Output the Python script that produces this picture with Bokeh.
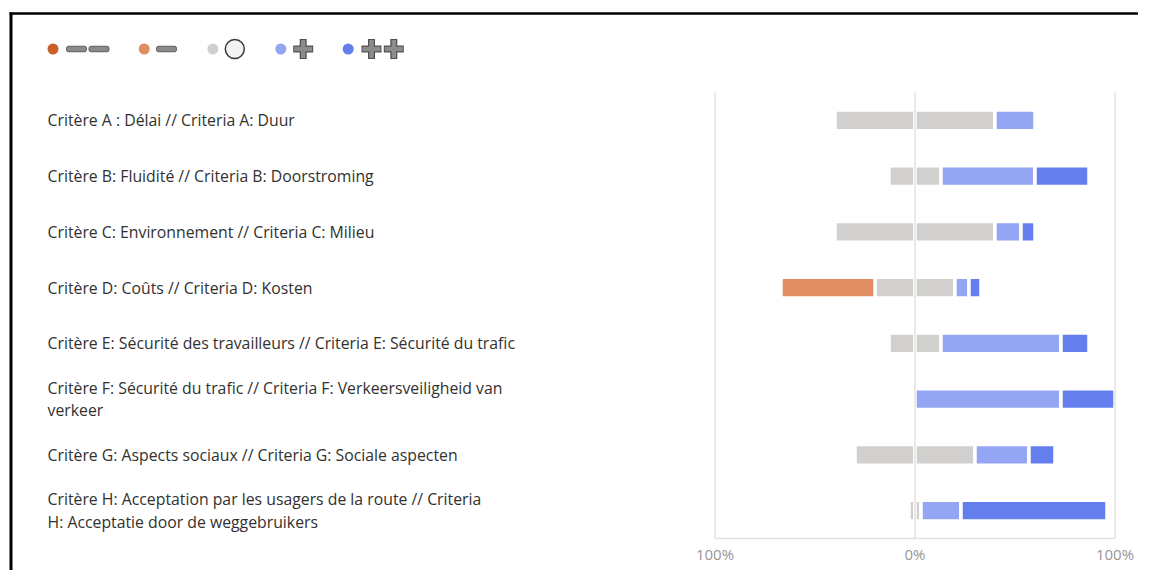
import numpy as np
import pandas as pd
from bokeh.plotting import figure
from bokeh.models import ColumnDataSource, Range1d
from bokeh.core.properties import value
from bokeh.embed import file_html
from bokeh.resources import INLINE

# ---------------- data ----------------
categories = [
    "Critère A : Délai // Criteria A: Duur",
    "Critère B: Fluidité // Criteria B: Doorstroming",
    "Critère C: Environnement // Criteria C: Milieu",
    "Critère D: Coûts // Criteria D: Kosten",
    "Critère E: Sécurité des travailleurs // Criteria E: Sécurité du trafic",
    "Critère F: Sécurité du trafic // Criteria F: Verkeersveiligheid van\nverkeer",
    "Critère G: Aspects sociaux // Criteria G: Sociale aspecten",
    "Critère H: Acceptation par les usagers de la route // Criteria\nH: Acceptatie door de weggebruikers",
]
very_negative = [0, 0, 0, 0, 0, 0, 0, 0]
negative = [0, 0, 0, 47, 0, 0, 0, 0]
neutral = [80, 26, 80, 40, 26, 0, 60, 6]
positive = [20, 47, 13, 7, 60, 73, 27, 20]
very_positive = [0, 27, 7, 6, 14, 27, 13, 73]

series_colors = ["#CC5F27", "#E08D62", "#D2D0CE", "#93A5F3", "#647EEE"]

ticks = [-100, 0, 100]
tick_labels = ["100%", "0%", "100%"]

# ---------------- layout (picture pixels, canvas origin at 0,0) ----------------
W, H = 1138, 570
X_ZERO = 914.5
PX_PER_PCT = 2.0
ROW0 = 119.9
PX_PER_ROW = 55.75


def dx(px):
    return (px - X_ZERO) / PX_PER_PCT


def dy(py):
    return (py - ROW0) / PX_PER_ROW


p = figure(width=W, height=H, output_backend="svg", toolbar_location=None,
           x_range=Range1d(dx(0), dx(W)),
           y_range=Range1d(dy(H), dy(0)),
           x_axis_type=None, y_axis_type=None, min_border=0,
           outline_line_color=None, background_fill_color="white",
           border_fill_color="white")
p.grid.visible = False

# ---------------- bar segments ----------------
rows = []
for i in range(len(categories)):
    half = neutral[i] / 2.0
    segs = [
        (-half, 0, series_colors[2], neutral[i]),
        (-half - negative[i], -half, series_colors[1], negative[i]),
        (-half - negative[i] - very_negative[i], -half - negative[i], series_colors[0], very_negative[i]),
        (0, half, series_colors[2], neutral[i]),
        (half, half + positive[i], series_colors[3], positive[i]),
        (half + positive[i], half + positive[i] + very_positive[i], series_colors[4], very_positive[i]),
    ]
    for l, r, c, v in segs:
        if v > 0:
            rows.append(dict(y=i, left=l, right=r, color=c))
bars = ColumnDataSource(pd.DataFrame(rows))
p.hbar(y="y", left="left", right="right", height=0.375, fill_color="color",
       line_color="white", line_width=3.5, border_radius=2, source=bars)

# grid lines and baseline
n = len(categories)
p.segment(x0=ticks, x1=ticks, y0=[-0.5] * 3, y1=[n - 0.5] * 3,
          line_color="#E3E2E1", line_width=1.5)
p.segment(x0=[ticks[0]], x1=[ticks[-1]], y0=[n - 0.5], y1=[n - 0.5],
          line_color="#E3E2E1", line_width=1.5)

# tick labels
p.text(x=ticks, y=[dy(553)] * 3, text=tick_labels, text_align="center",
       text_baseline="middle", text_font=value("Open Sans"),
       text_font_size="15px", text_color="#979593")

# category labels
p.text(x=[dx(47)] * n, y=list(range(n)), text=categories, text_align="left",
       text_baseline="middle", text_font=value("Open Sans"),
       text_font_size="15.8px", text_color="#323130", text_line_height=1.02)

# ---------------- legend ----------------
ly = dy(48.5)
dot_px = [52.5, 143.7, 212.3, 280.3, 347.7]
p.scatter(x=[dx(v) for v in dot_px], y=[ly] * 5, size=11, marker="circle",
          fill_color=series_colors, line_color=None)

dash_px = [76, 98.5, 166]
p.rect(x=[dx(v) for v in dash_px], y=[ly] * 3, width=20, height=5.5,
       width_units="screen", height_units="screen", fill_color="#8A8A8A",
       line_color="#5C5C5C", line_width=1, border_radius=2)

p.scatter(x=[dx(234.3)], y=[ly], size=19, marker="circle", fill_color="#F3F3F3",
          line_color="#3A3A3A", line_width=1.5)

plus_px = [302.7, 371, 393.3]
px = [dx(v) for v in plus_px]
p.rect(x=px, y=[ly] * 3, width=20, height=7, width_units="screen",
       height_units="screen", fill_color="#505050", line_color=None)
p.rect(x=px, y=[ly] * 3, width=7, height=20, width_units="screen",
       height_units="screen", fill_color="#505050", line_color=None)
p.rect(x=px, y=[ly] * 3, width=18, height=4.5, width_units="screen",
       height_units="screen", fill_color="#8C8C8C", line_color=None)
p.rect(x=px, y=[ly] * 3, width=4.5, height=18, width_units="screen",
       height_units="screen", fill_color="#8C8C8C", line_color=None)

# ---------------- frame of the document picture ----------------
p.segment(x0=[dx(10.5)], x1=[dx(10.5)], y0=[dy(12)], y1=[dy(H)],
          line_color="black", line_width=3)
p.segment(x0=[dx(9)], x1=[dx(W)], y0=[dy(13)], y1=[dy(13)],
          line_color="black", line_width=2.5)

open("out.html", "w").write(file_html(p, INLINE))
